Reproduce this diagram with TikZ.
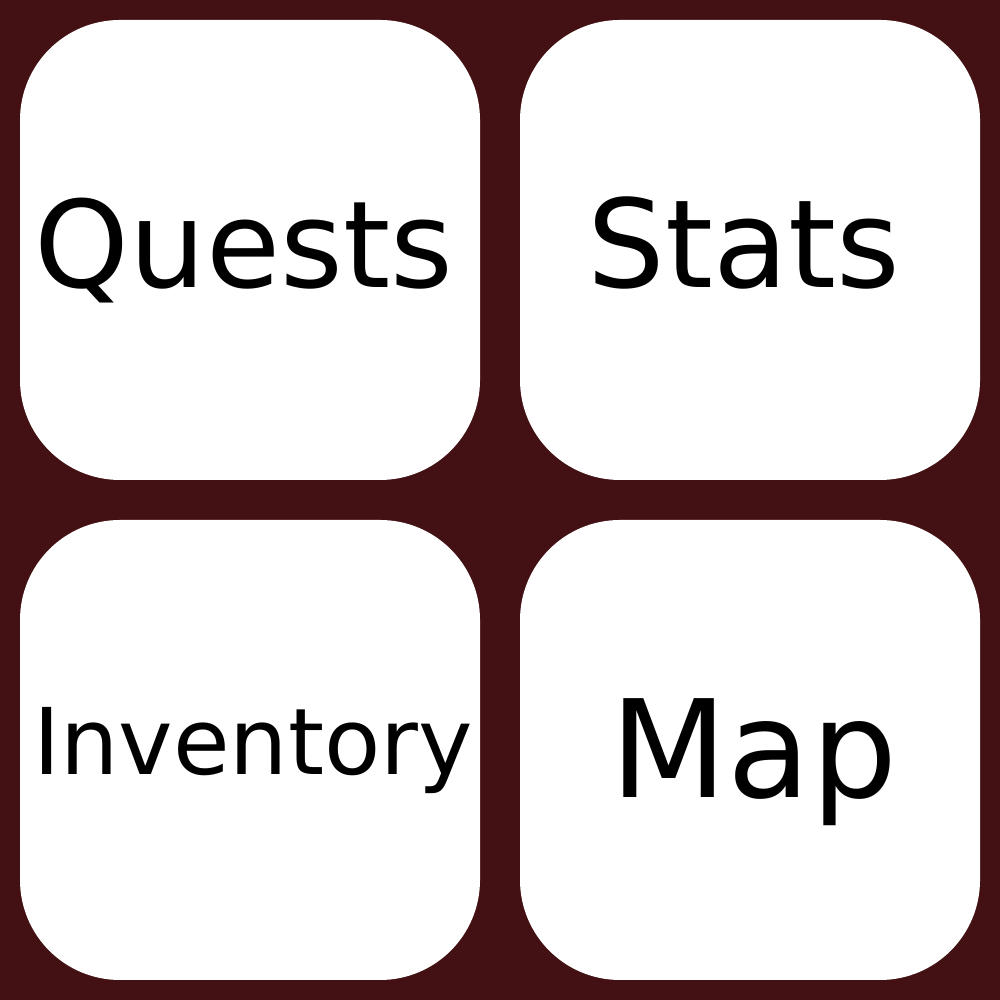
\documentclass[tikz,border=0pt]{standalone}
\usepackage{fontspec}
\setmainfont{DejaVu Sans}
\definecolor{bgmaroon}{RGB}{67,17,20}
\tikzset{
  tile/.style={fill=white,rounded corners=1cm,minimum size=4.6cm,inner sep=0pt},
  tiletext/.style={anchor=base,inner sep=0pt}
}
\begin{document}
\begin{tikzpicture}

\fill[bgmaroon] (0,0) rectangle (10,10);

\node[tile] (quests) at (2.5,7.5) {};
\node[tile] (stats) at (7.5,7.5) {};
\node[tile] (inventory) at (2.5,2.5) {};
\node[tile] (map) at (7.5,2.5) {};

\node[tiletext,font=\fontsize{34.3}{40}\selectfont] (questslabel) at ([xshift=-0.06cm,yshift=-0.38cm]quests.center) {Quests};
\node[tiletext,font=\fontsize{34.8}{40}\selectfont] (statslabel) at ([xshift=-0.06cm,yshift=-0.38cm]stats.center) {Stats};
\node[tiletext,font=\fontsize{26.2}{30}\selectfont] (inventorylabel) at ([xshift=0.03cm,yshift=-0.25cm]inventory.center) {Inventory};
\node[tiletext,font=\fontsize{38.6}{46}\selectfont] (maplabel) at ([xshift=0.04cm,yshift=-0.48cm]map.center) {Map};
\end{tikzpicture}
\end{document}
